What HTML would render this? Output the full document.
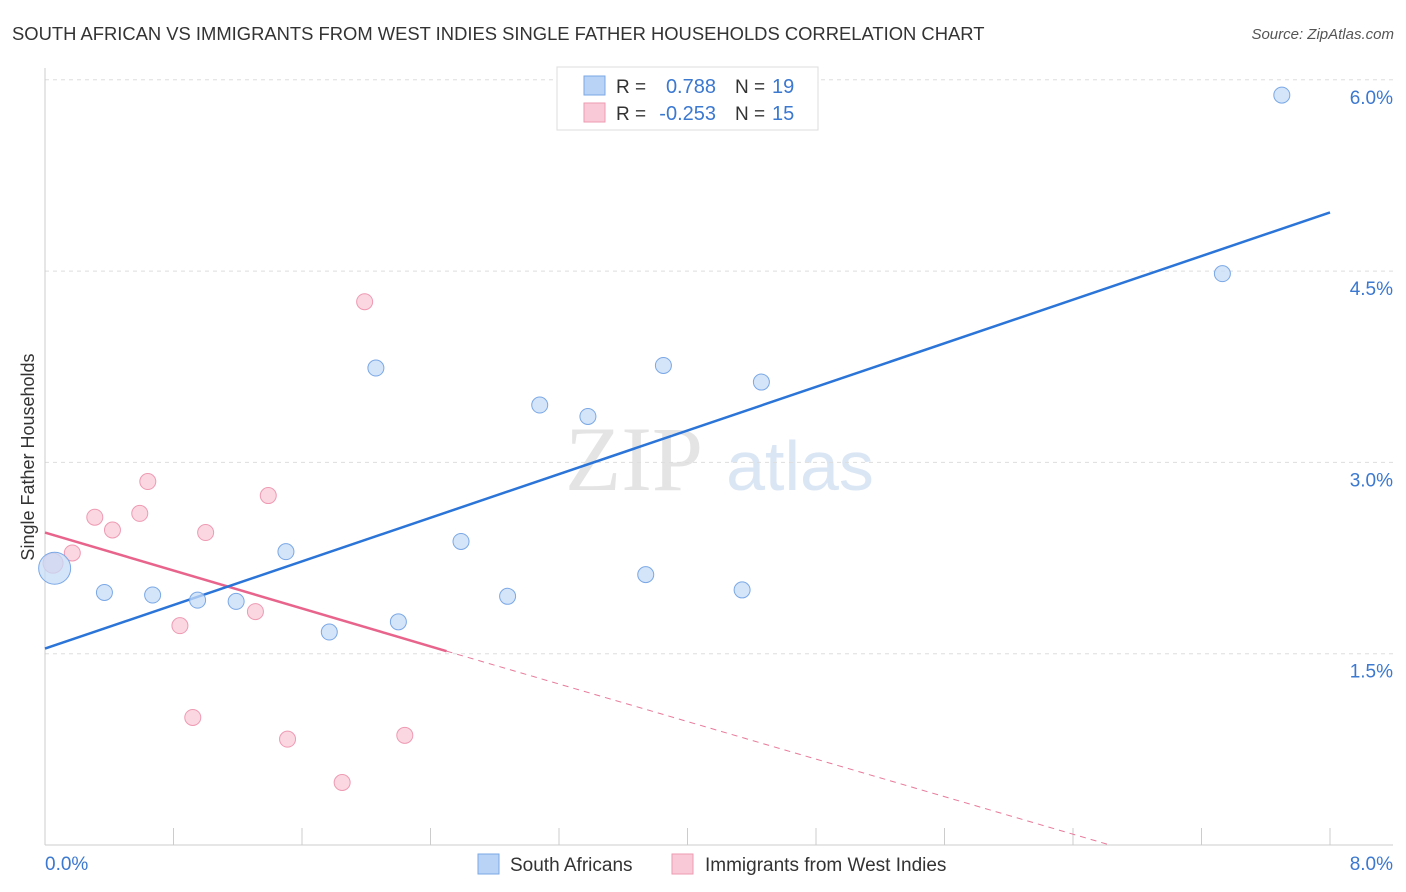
<!DOCTYPE html>
<html><head><meta charset="utf-8"><style>
body{margin:0;background:#fff;font-family:"Liberation Sans",sans-serif;}
svg{display:block}
</style></head><body>
<svg width="1406" height="892" id="chart">
<text x="12" y="40" font-size="18.4" fill="#333">SOUTH AFRICAN VS IMMIGRANTS FROM WEST INDIES SINGLE FATHER HOUSEHOLDS CORRELATION CHART</text>
<text x="1394" y="39" font-size="15" fill="#555" font-style="italic" text-anchor="end">Source: ZipAtlas.com</text>
<text x="634" y="490" font-size="92" fill="#e4e4e4" font-family="Liberation Serif,serif" text-anchor="middle">ZIP</text>
<text x="800" y="490" font-size="70" fill="#dbe6f5" text-anchor="middle">atlas</text>
<text transform="translate(34,457) rotate(-90)" font-size="18" fill="#333" text-anchor="middle">Single Father Households</text>
<g id="grid"></g><g id="axes"></g><g id="lines"></g><g id="points"></g>
<g>
<rect x="557" y="67" width="261" height="63" fill="#fff" stroke="#ddd"/>
<rect x="584" y="76" width="21" height="19" fill="#b8d3f5" stroke="#7aa8e6"/>
<rect x="584" y="103" width="21" height="19" fill="#f9c9d7" stroke="#ee9ab3"/>
<text x="616" y="93" font-size="19" fill="#333">R = </text><text x="716" y="93" font-size="20" fill="#3b78d0" text-anchor="end">0.788</text>
<text x="735" y="93" font-size="19" fill="#333">N = </text><text x="772" y="93" font-size="20" fill="#3b78d0">19</text>
<text x="616" y="120" font-size="19" fill="#333">R = </text><text x="716" y="120" font-size="20" fill="#3b78d0" text-anchor="end">-0.253</text>
<text x="735" y="120" font-size="19" fill="#333">N = </text><text x="772" y="120" font-size="20" fill="#3b78d0">15</text>
</g>
<g>
<rect x="478" y="854" width="21" height="20" fill="#b8d3f5" stroke="#7aa8e6"/>
<text x="510" y="871" font-size="19" fill="#333">South Africans</text>
<rect x="672" y="854" width="21" height="20" fill="#f9c9d7" stroke="#ee9ab3"/>
<text x="705" y="871" font-size="19" fill="#333">Immigrants from West Indies</text>
</g>
</svg>
<script>
const blueX=[0.06,0.37,0.67,0.95,1.19,1.50,1.77,2.06,2.20,2.59,2.88,3.08,3.38,3.74,3.85,4.34,4.46,7.33,7.70];
const blueY=[2.17,1.98,1.96,1.92,1.91,2.30,1.67,3.74,1.75,2.38,1.95,3.45,3.36,2.12,3.76,2.00,3.63,4.48,5.88];
const pinkX=[0.05,0.17,0.31,0.42,0.59,0.64,0.84,0.92,1.00,1.31,1.39,1.51,1.85,1.99,2.24];
const pinkY=[2.21,2.29,2.57,2.47,2.60,2.85,1.72,1.00,2.45,1.83,2.74,0.83,0.49,4.26,0.86];
const yTicks=[1.5,3.0,4.5,6.0];
const yTickLabels=["1.5%","3.0%","4.5%","6.0%"];
const xTicks=[0.8,1.6,2.4,3.2,4.0,4.8,5.6,6.4,7.2,8.0];
const blueTrend=[[0,1.54],[8,4.96]];
const pinkTrendSolid=[[0,2.45],[2.50,1.52]];
const pinkTrendDash=[[2.50,1.52],[6.63,0.0]];
const NS="http://www.w3.org/2000/svg";
const sx=v=>45+v*1285/8, sy=v=>845-v*191.3/1.5;
function mk(t,a,p){const e=document.createElementNS(NS,t);for(const k in a)e.setAttribute(k,a[k]);document.getElementById(p).appendChild(e);return e;}
yTicks.forEach((t,i)=>{
 const l=mk('line',{x1:45,x2:1393,y1:sy(t),y2:sy(t),stroke:'#ddd','stroke-dasharray':'4,4'},'grid');
 
 
 const tx=mk('text',{x:1393,y:sy(t)+24,'font-size':19,fill:'#3b78d0','text-anchor':'end'},'grid');
 tx.textContent=yTickLabels[i];
 
 
});
let a=mk('line',{x1:45,x2:1393,y1:845,y2:845,stroke:'#ccc'},'axes');


a=mk('line',{x1:45,x2:45,y1:68,y2:845,stroke:'#ccc'},'axes');


xTicks.forEach(v=>{const t=mk('line',{x1:sx(v),x2:sx(v),y1:828,y2:845,stroke:'#ccc'},'axes');
 
 });
let xl=mk('text',{x:45,y:870,'font-size':19,fill:'#3b78d0'},'axes');xl.textContent='0.0%';


xl=mk('text',{x:1393,y:870,'font-size':19,fill:'#3b78d0','text-anchor':'end'},'axes');xl.textContent='8.0%';


function ln(p,c,w,d,name){const l=mk('line',{x1:sx(p[0][0]),y1:sy(p[0][1]),x2:sx(p[1][0]),y2:sy(p[1][1]),stroke:c,'stroke-width':w},'lines');if(d)l.setAttribute('stroke-dasharray',d);
 
 }
ln(pinkTrendDash,'#e87a9b',1,'6,5','pink-trend-extension');
ln(pinkTrendSolid,'#e8648c',2.5,null,'pink-trend-line');
ln(blueTrend,'#2b74d8',2.5,null,'blue-trend-line');
pinkX.forEach((x,i)=>{const c=mk('circle',{cx:sx(x),cy:sy(pinkY[i]),r:i==0?10:8,fill:'#f9c9d7','fill-opacity':0.75,stroke:'#ee9ab3'},'points');
 
 });
blueX.forEach((x,i)=>{const c=mk('circle',{cx:sx(x),cy:sy(blueY[i]),r:i==0?16:8,fill:'#c5dbf7','fill-opacity':0.75,stroke:'#7aa8e6'},'points');
 
 });
</script>
</body></html>
